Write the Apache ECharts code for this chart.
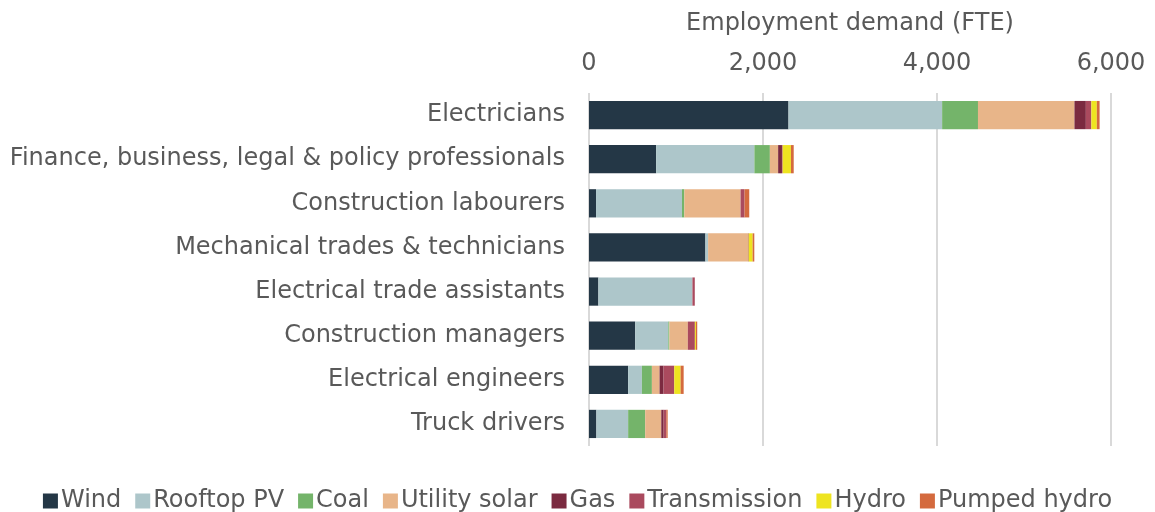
<!DOCTYPE html>
<html>
<head>
<meta charset="utf-8">
<script src="https://cdn.jsdelivr.net/npm/echarts@6/dist/echarts.min.js"></script>
<style>
  html, body { margin: 0; padding: 0; background: #fff; }
  #chart { width: 1155px; height: 512px; }
</style>
</head>
<body>
<div id="chart"></div>
<script>
// occupations, top to bottom
const categories = ['Electricians', 'Finance, business, legal & policy professionals', 'Construction labourers',
  'Mechanical trades & technicians', 'Electrical trade assistants', 'Construction managers',
  'Electrical engineers', 'Truck drivers']

// FTE by technology, same order as categories
const wind = [2293, 772, 81, 1338, 108, 531, 450, 85]
const rooftopPV = [1766, 1129, 988, 31, 1081, 381, 158, 365]
const coal = [412, 178, 27, 0, 0, 12, 115, 196]
const utilitySolar = [1109, 95, 646, 458, 0, 212, 88, 185]
const gas = [131, 44, 0, 0, 0, 0, 46, 27]
const transmission = [63, 8, 46, 8, 27, 81, 123, 31]
const hydro = [63, 95, 0, 46, 0, 12, 73, 0]
const pumpedHydro = [32, 32, 54, 19, 0, 15, 35, 15]

const xTicks = [0, 2000, 4000, 6000]

const names = ['Wind', 'Rooftop PV', 'Coal', 'Utility solar', 'Gas', 'Transmission', 'Hydro', 'Pumped hydro']
const colors = ['#243746', '#adc6ca', '#74b46a', '#e8b589', '#7b2a40', '#aa4a5e', '#eee420', '#d46a3e']
const values = [wind, rooftopPV, coal, utilitySolar, gas, transmission, hydro, pumpedHydro]

const textColor = '#595959'
const font = 'DejaVu Sans'
const fs = 24

const chart = echarts.init(document.getElementById('chart'))
chart.setOption({
  animation: false,
  textStyle: { fontFamily: font },
  grid: {
    left: 589,
    right: 44,
    top: 93,
    bottom: 66,
    containLabel: false,
    outerBoundsMode: 'none'
  },
  legend: {
    data: names,
    top: 484,
    left: 'center',
    icon: 'rect',
    itemWidth: 15,
    itemHeight: 15,
    itemGap: 14,
    textStyle: { color: textColor, fontSize: fs, fontFamily: font, padding: [0, 0, 0, -2] }
  },
  xAxis: {
    type: 'value',
    position: 'top',
    min: xTicks[0],
    max: xTicks[xTicks.length - 1],
    interval: 2000,
    name: 'Employment demand (FTE)',
    nameLocation: 'middle',
    nameGap: 57,
    nameTextStyle: { color: textColor, fontSize: fs, fontFamily: font },
    axisLine: { show: false },
    axisTick: { show: false },
    axisLabel: {
      color: textColor,
      fontSize: fs,
      fontFamily: font,
      margin: 17,
      formatter: v => v.toLocaleString('en-US')
    },
    splitLine: { lineStyle: { color: '#d9d9d9', width: 2 } }
  },
  yAxis: {
    type: 'category',
    data: categories,
    inverse: true,
    axisLine: { show: false },
    axisTick: { show: false },
    axisLabel: { color: textColor, fontSize: fs, fontFamily: font, margin: 24 }
  },
  series: names.map((n, i) => ({
    name: n,
    type: 'bar',
    stack: 'total',
    barCategoryGap: '36%',
    itemStyle: { color: colors[i] },
    data: values[i]
  }))
})
</script>
</body>
</html>
